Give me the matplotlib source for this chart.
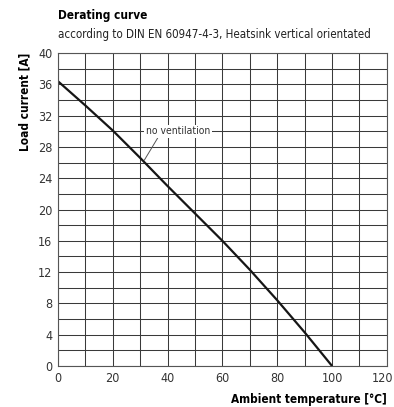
import numpy as np
import matplotlib
matplotlib.use("Agg")
import matplotlib.pyplot as plt
import matplotlib.transforms as mtransforms

plt.rcParams['font.family'] = ['DejaVu Sans']
plt.rcParams['font.stretch'] = 'condensed'

# Derating curve
temp = [0, 10, 20, 30, 40, 50, 60, 70, 80, 90, 100]
current = [36.4, 33.3, 30.1, 26.6, 23.0, 19.5, 16.0, 12.3, 8.4, 4.3, 0.0]

x_ticks = [0, 20, 40, 60, 80, 100, 120]
y_ticks = [0, 4, 8, 12, 16, 20, 24, 28, 32, 36, 40]

fig = plt.figure(figsize=(3.94, 4.07), dpi=100)
ax = fig.add_axes([0.147, 0.1007, 0.835, 0.769])

ax.set_xlim(0, 120)
ax.set_ylim(0, 40)
ax.set_xticks(x_ticks)
ax.set_yticks(y_ticks)
ax.set_xticks(np.arange(0, 121, 10), minor=True)
ax.set_yticks(np.arange(0, 41, 2), minor=True)
ax.grid(True, which='both', color='#3a3a3a', linewidth=0.75)
ax.set_axisbelow(True)
ax.tick_params(which='both', length=0, labelsize=9, colors='#333333', pad=4)
for s in ax.spines.values():
    s.set_color('#555555')
    s.set_linewidth(0.8)

# keep the last x label inside the figure
last = ax.get_xticklabels()[-1]
last.set_horizontalalignment('right')
last.set_transform(last.get_transform() + mtransforms.ScaledTranslation(6 / 100, 0, fig.dpi_scale_trans))

ax.plot(temp, current, color='#161616', linewidth=1.6, solid_capstyle='butt')

ax.annotate("no ventilation", xy=(31.5, 26.3), xytext=(43.8, 30.0),
            ha='center', va='center', fontsize=7.5, color='#333333',
            bbox=dict(boxstyle='square,pad=0.15', fc='white', ec='none'),
            arrowprops=dict(arrowstyle='-', color='#555555', lw=0.7,
                            shrinkA=0, shrinkB=0, relpos=(0.2, 0.0)))

ax.set_ylabel("Load current [A]", fontsize=8.5, fontweight='bold', loc='top', labelpad=5)
ax.set_xlabel("Ambient temperature [°C]", fontsize=8.5, fontweight='bold', loc='right', labelpad=6)

fig.text(0.147, 0.963, "Derating curve", fontsize=8.5, fontweight='bold', ha='left', va='center')
fig.text(0.147, 0.915, "according to DIN EN 60947-4-3, Heatsink vertical orientated",
         fontsize=8.3, ha='left', va='center', color='#222222')

fig.savefig("out.png", dpi=100)
